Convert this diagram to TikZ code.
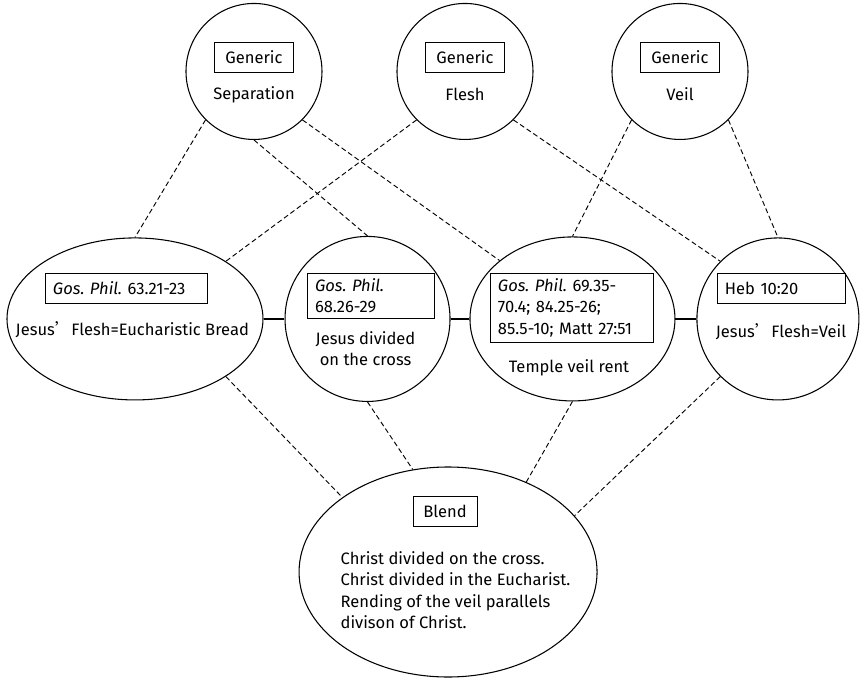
\documentclass[tikz,border=0pt]{standalone}
\usepackage{fontspec}
\setmainfont{Fira Sans}
\newfontfamily\cjk{Noto Sans CJK SC}
\usetikzlibrary{shapes.geometric,positioning}
\frenchspacing

\newcommand{\gp}{\textit{Gos. Phil.}}
\newcommand{\apos}{{\cjk ’}}

\begin{document}
\begin{tikzpicture}[node distance=160pt,on grid,
   every node/.style={font=\fontsize{12.4pt}{16pt}\selectfont},
   space/.style={draw,line width=0.8pt,inner sep=0pt},
   gen/.style={space,circle,minimum size=102pt},
   tag/.style={draw,line width=0.5pt,inner xsep=6pt,inner ysep=4pt,
     minimum height=22.5pt,align=left},
   link/.style={line width=1.5pt},
   map/.style={line width=0.7pt,dash pattern=on 3.75pt off 2.25pt}]
   \useasboundingbox (-348.75pt,53.6pt) rectangle (297pt,-454.9pt);
   % generic spaces
   \node[gen] (flesh) {};
   \node[gen] (sep) [left=158.25pt of flesh] {};
   \node[gen] (veil) [right=161.25pt of flesh] {};
   % input spaces
   \node[space,circle,minimum size=123.75pt] (cross)
      [below left=185.6pt and 73.1pt of flesh] {};
   \node[space,ellipse,minimum width=192pt,minimum height=121.5pt] (bread)
      [left=174.4pt of cross] {};
   \node[space,ellipse,minimum width=153.75pt,minimum height=123pt] (rent)
      [right=153.7pt of cross] {};
   \node[space,circle,minimum size=121.5pt] (heb)
      [right=154.1pt of rent] {};
   % blended space
   \node[space,ellipse,minimum width=223.5pt,minimum height=157.5pt] (blend)
      [below right=189.8pt and 60.4pt of cross] {};

   % labels of the generic spaces
   \foreach \s/\t in {sep/Separation,flesh/Flesh,veil/Veil} {
      \node[tag,minimum width=59.25pt,align=center] (\s-tag)
         at ([yshift=10.9pt]\s.center) {Generic};
      \node (\s-txt) at ([yshift=-17.25pt]\s.center) {\t};
   }
   % labels of the input spaces
   \node[tag,text width=109.5pt,anchor=north] (bread-tag)
      at ([xshift=-6.75pt,yshift=34.5pt]bread.center) {\gp{} 63.21-23};
   \node (bread-txt) at ([xshift=-2pt,yshift=-8.25pt]bread.center)
      {Jesus\apos Flesh=Eucharistic Bread};
   \node[tag,text width=83.25pt,anchor=north] (cross-tag)
      at ([xshift=2.25pt,yshift=34.5pt]cross.center) {\gp\\68.26-29};
   \node[align=center] (cross-txt) at ([xshift=-1.5pt,yshift=-22.5pt]cross.center)
      {Jesus divided\\on the cross};
   \node[tag,text width=110.25pt,anchor=north] (rent-tag)
      at ([xshift=-0.75pt,yshift=34.5pt]rent.center)
      {\gp{} 69.35-\\70.4; 84.25-26;\\85.5-10; Matt 27:51};
   \node (rent-txt) at ([xshift=-2.6pt,yshift=-36.75pt]rent.center)
      {Temple veil rent};
   \node[tag,text width=84pt,anchor=north] (heb-tag)
      at ([xshift=2.25pt,yshift=34.5pt]heb.center) {Heb 10:20};
   \node (heb-txt) at ([xshift=2.25pt,yshift=-9.75pt]heb.center)
      {Jesus\apos Flesh=Veil};
   % labels of the blend
   \node[tag,minimum width=48pt,align=center] (blend-tag)
      at ([xshift=-2.25pt,yshift=45.75pt]blend.center) {Blend};
   \node[align=left] (blend-txt) at ([xshift=5.6pt,yshift=-13.5pt]blend.center)
      {Christ divided on the cross.\\Christ divided in the Eucharist.\\
       Rending of the veil parallels\\divison of Christ.};

   \path[link] (bread) edge (cross)
               (cross) edge (rent)
               (rent) edge (heb);
   \path[map]
   (sep.south west) edge (bread.north)
   (sep.south) edge (cross.north)
   (sep.south east) edge (rent.north west)
   (flesh.south west) edge (bread.north east)
   (flesh.south east) edge (heb.north west)
   (veil.south west) edge (rent.north)
   (veil.south east) edge (heb.north)
   (bread.south east) edge (blend.north west)
   (cross.south) edge (blend.109)
   (rent.south) edge (blend.49)
   (heb.south west) edge (blend.24);
\end{tikzpicture}
\end{document}
